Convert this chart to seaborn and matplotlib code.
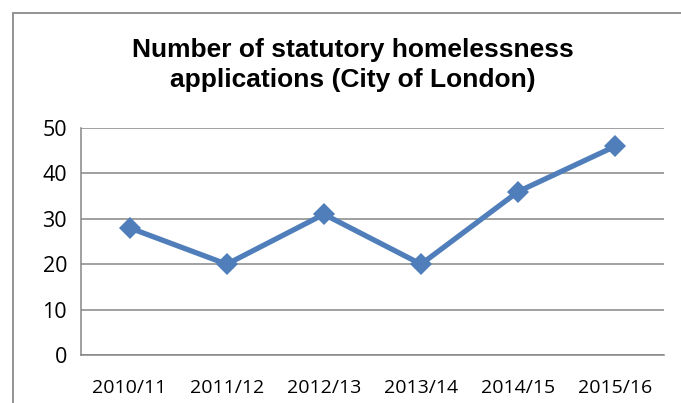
import matplotlib
matplotlib.use("Agg")
import matplotlib.pyplot as plt
import seaborn as sns
import pandas as pd
from matplotlib.patches import Rectangle

periods = ["2010/11", "2011/12", "2012/13", "2013/14", "2014/15", "2015/16"]
applications = [28, 20, 31, 20, 36, 46]
y_ticks = [0, 10, 20, 30, 40, 50]
title = "Number of statutory homelessness\napplications (City of London)"

sns.set_style("white")
plt.rcParams["font.family"] = ["Open Sans", "DejaVu Sans"]
plt.rcParams["text.color"] = "black"
plt.rcParams["xtick.labelcolor"] = "black"
plt.rcParams["ytick.labelcolor"] = "black"

W, H = 681, 403
fig = plt.figure(figsize=(W / 100, H / 100), dpi=100)
ax = fig.add_axes([81 / W, (H - 355) / H, (664 - 81) / W, (355 - 128) / H])

df = pd.DataFrame({"period": periods, "applications": applications})
sns.lineplot(data=df, x="period", y="applications", ax=ax, color="#4F7EBB",
             linewidth=3.8, marker="D", markersize=11, markeredgewidth=0)

grid_c = "#868686"
ax.set_ylim(0, 50)
ax.set_xlim(-0.5, len(periods) - 0.5)
ax.set_yticks(y_ticks)
ax.set_yticklabels([str(v) for v in y_ticks], fontsize=15.5, color="black")
ax.set_xticks(range(len(periods)))
ax.set_xticklabels(periods, fontsize=14, color="black")
ax.set_xticks([i - 0.5 for i in range(len(periods) + 1)], minor=True)
ax.tick_params(axis="x", which="major", length=0, pad=17)
ax.tick_params(axis="x", which="minor", length=5, width=1, color=grid_c, direction="out")
ax.tick_params(axis="y", length=6, width=1, color=grid_c, direction="out", pad=4)
ax.yaxis.grid(True, color=grid_c, linewidth=1.1)
ax.set_axisbelow(True)
ax.set_xlabel("")
ax.set_ylabel("")
for s in ["top", "right"]:
    ax.spines[s].set_visible(False)
for s in ["left", "bottom"]:
    ax.spines[s].set_color(grid_c)
    ax.spines[s].set_linewidth(1.1)

fig.text(353 / W, 1 - 65 / H, title, ha="center", va="center", color="black",
         fontsize=19, fontweight="bold", family=["Liberation Sans", "DejaVu Sans"],
         linespacing=1.3)

fig.patches.append(Rectangle((12.5 / W, -0.1), 1.2, (H - 13) / H + 0.1 - 0.001,
                             transform=fig.transFigure, fill=False,
                             edgecolor="#8a8a8a", linewidth=1.3))

fig.savefig("out.png", dpi=100)
